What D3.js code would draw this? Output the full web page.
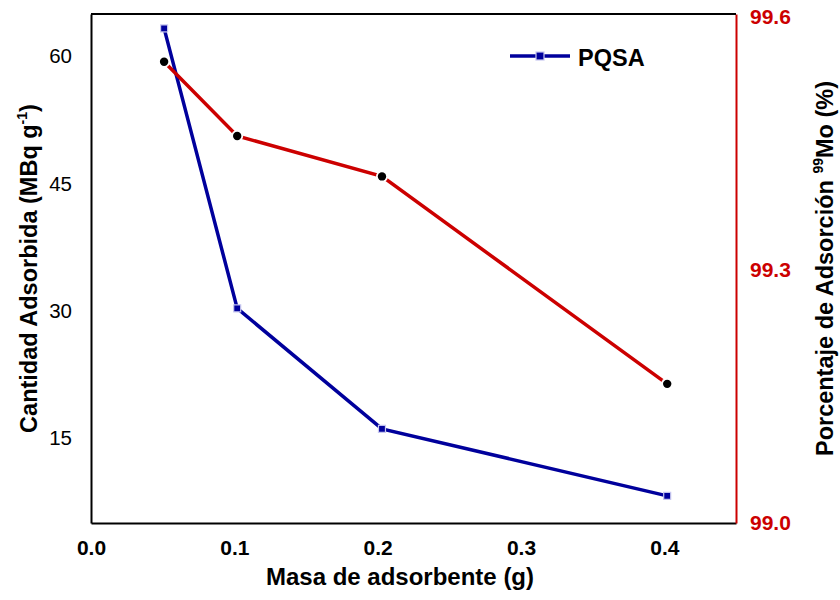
<!DOCTYPE html>
<html>
<head>
<meta charset="utf-8">
<script src="https://cdn.jsdelivr.net/npm/d3@7"></script>
<style>
  html, body { margin: 0; padding: 0; background: #fff; }
  svg { display: block; font-family: "Liberation Sans", Arial, sans-serif; }
</style>
</head>
<body>
<svg id="chart" width="840" height="600"></svg>
<script>
// Adsorbent mass (g)
const masa = [0.051, 0.102, 0.203, 0.402];
// Adsorbed activity, PQSA (MBq g-1), left axis
const cantidad = [63.3, 30.3, 16.1, 8.2];
// 99Mo adsorption percentage (%), right axis
const porcentaje = [99.547, 99.459, 99.411, 99.165];

const xTicks = [0.0, 0.1, 0.2, 0.3, 0.4];
const yLeftTicks = [15, 30, 45, 60];
const yRightTicks = [99.0, 99.3, 99.6];

const BLUE = "#00009C";
const RED = "#CC0000";

const svg = d3.select("#chart");
const margin = { left: 91, top: 14, right: 104, bottom: 77 };
const W = 840 - margin.left - margin.right;
const H = 600 - margin.top - margin.bottom;

const g = svg.append("g").attr("transform", `translate(${margin.left},${margin.top})`);

const x = d3.scaleLinear().domain([0, 0.45]).range([0, W]);
const yL = d3.scaleLinear().domain([5, 65]).range([H, 0]);
const yR = d3.scaleLinear().domain([99.0, 99.6036]).range([H, 0]);

// Axes (no tick marks, labels only)
const xAxis = g.append("g").attr("transform", `translate(0,${H})`)
  .call(d3.axisBottom(x).tickValues(xTicks).tickSize(0).tickPadding(17)
    .tickFormat(d3.format(".1f")));
xAxis.select(".domain").attr("stroke", "#000").attr("stroke-width", 2);
xAxis.selectAll("text").attr("font-size", 21).attr("font-weight", "bold")
  .attr("fill", "#000").attr("font-family", "Liberation Sans, Arial, sans-serif");

const yAxisL = g.append("g")
  .call(d3.axisLeft(yL).tickValues(yLeftTicks).tickSize(0).tickPadding(19));
yAxisL.select(".domain").attr("stroke", "#000").attr("stroke-width", 2);
yAxisL.selectAll("text").attr("font-size", 20.5).attr("fill", "#000")
  .attr("font-family", "Liberation Sans, Arial, sans-serif");

const yAxisR = g.append("g").attr("transform", `translate(${W},0)`)
  .call(d3.axisRight(yR).tickValues(yRightTicks).tickSize(0).tickPadding(14)
    .tickFormat(d3.format(".1f")));
yAxisR.select(".domain").attr("stroke", RED).attr("stroke-width", 2);
yAxisR.selectAll("text").attr("font-size", 21).attr("font-weight", "bold")
  .attr("fill", RED).attr("font-family", "Liberation Sans, Arial, sans-serif");

// Top frame line
g.append("line").attr("x1", 0).attr("x2", W).attr("y1", 0).attr("y2", 0)
  .attr("stroke", "#000").attr("stroke-width", 2);

// PQSA series (left axis)
const lineL = d3.line().x((d, i) => x(masa[i])).y(d => yL(d));
g.append("path").datum(cantidad).attr("d", lineL)
  .attr("fill", "none").attr("stroke", BLUE).attr("stroke-width", 3.5);
g.selectAll(".sq").data(cantidad).join("rect").attr("class", "sq")
  .attr("x", (d, i) => x(masa[i]) - 3.5).attr("y", d => yL(d) - 3.5)
  .attr("width", 7).attr("height", 7)
  .attr("fill", BLUE).attr("stroke", "#c8c8f0").attr("stroke-width", 1.2);

// Adsorption percentage series (right axis)
const lineR = d3.line().x((d, i) => x(masa[i])).y(d => yR(d));
g.append("path").datum(porcentaje).attr("d", lineR)
  .attr("fill", "none").attr("stroke", RED).attr("stroke-width", 3.5);
g.selectAll(".halo").data(porcentaje).join("circle").attr("class", "halo")
  .attr("cx", (d, i) => x(masa[i])).attr("cy", d => yR(d))
  .attr("r", 6).attr("fill", "#fff");
g.selectAll(".dot").data(porcentaje).join("circle").attr("class", "dot")
  .attr("cx", (d, i) => x(masa[i])).attr("cy", d => yR(d))
  .attr("r", 4.2).attr("fill", "#000");

// Legend
const leg = svg.append("g");
leg.append("line").attr("x1", 510).attr("x2", 570).attr("y1", 56).attr("y2", 56)
  .attr("stroke", BLUE).attr("stroke-width", 3.5);
leg.append("rect").attr("x", 536).attr("y", 52).attr("width", 8).attr("height", 8)
  .attr("fill", BLUE).attr("stroke", "#c8c8f0").attr("stroke-width", 1.2);
leg.append("text").attr("x", 578).attr("y", 66).attr("font-size", 23.5)
  .attr("font-weight", "bold").attr("fill", "#000").text("PQSA");

// Axis titles
svg.append("text").attr("x", margin.left + 309).attr("y", 585)
  .attr("text-anchor", "middle").attr("font-size", 24).attr("font-weight", "bold")
  .attr("fill", "#000").text("Masa de adsorbente (g)");

const tL = svg.append("text")
  .attr("transform", `translate(37,${margin.top + H / 2}) rotate(-90)`)
  .attr("text-anchor", "middle").attr("font-size", 23.5).attr("font-weight", "bold")
  .attr("fill", "#000");
tL.append("tspan").text("Cantidad Adsorbida (MBq g");
tL.append("tspan").attr("font-size", 14).attr("dy", -10).text("-1");
tL.append("tspan").attr("dy", 10).text(")");

const tR = svg.append("text")
  .attr("transform", `translate(833,${margin.top + H / 2}) rotate(-90)`)
  .attr("text-anchor", "middle").attr("font-size", 23.5).attr("font-weight", "bold")
  .attr("fill", "#000");
tR.append("tspan").text("Porcentaje de Adsorción ");
tR.append("tspan").attr("font-size", 14).attr("dy", -10).text("99");
tR.append("tspan").attr("dy", 10).text("Mo (%)");
</script>
</body>
</html>
